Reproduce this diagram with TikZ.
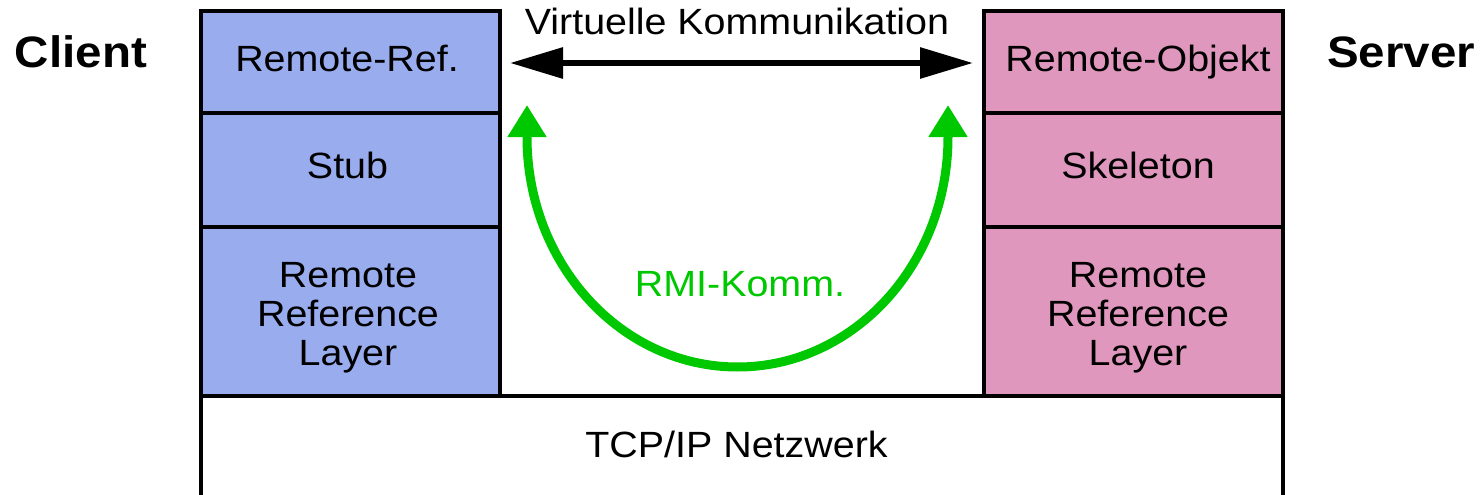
\documentclass[tikz,border=0pt]{standalone}
\usepackage{fontspec}
\setmainfont{Liberation Sans}[FakeStretch=1.08]
\usetikzlibrary{arrows.meta}
\definecolor{clientblue}{RGB}{152,172,238}
\definecolor{serverpink}{RGB}{224,151,190}
\definecolor{rmigreen}{RGB}{0,200,0}
\tikzset{
  bigtip/.tip={Triangle[length=53pt,width=30pt]},
  greentip/.tip={Triangle[length=32pt,width=37pt]}}
\begin{document}
\begin{tikzpicture}[x=1pt,y=-1pt,
  cell/.style={draw=black, line width=4pt, inner sep=0pt, outer sep=0pt, minimum width=299pt},
  lbl/.style={anchor=base, inner sep=0pt, font=\fontsize{36.5}{39}\selectfont},
  side/.style={anchor=base, inner sep=0pt, font=\fontsize{44}{48}\selectfont\bfseries}]
\useasboundingbox (0,0) rectangle (1481,495);
\clip (0,0) rectangle (1481,495);

% network layer (open at the bottom edge)
\node[cell, fill=white, minimum width=1082pt, minimum height=144pt] (net) at (742,468) {};

% client stack
\node[cell, fill=clientblue, minimum height=102pt] (cref)  at (350.5,62) {};
\node[cell, fill=clientblue, minimum height=114pt] (cstub) at (350.5,170) {};
\node[cell, fill=clientblue, minimum height=169pt] (crrl)  at (350.5,311.5) {};

% server stack
\node[cell, fill=serverpink, minimum height=102pt] (sobj)  at (1133.5,62) {};
\node[cell, fill=serverpink, minimum height=114pt] (sskel) at (1133.5,170) {};
\node[cell, fill=serverpink, minimum height=169pt] (srrl)  at (1133.5,311.5) {};

% labels
\node[side] (client) at (81,67) {Client};
\node[side] (server) at (1401,67) {Server};
\node[lbl] (crefT)  at (347,72) {Remote-Ref.};
\node[lbl] (cstubT) at (347.5,178) {Stub};
\node[lbl] (crrlT)  at (348,365) {\begin{tabular}[b]{@{}c@{}}Remote\\Reference\\Layer\end{tabular}};
\node[lbl] (sobjT)  at (1138,72) {Remote-Objekt};
\node[lbl] (sskelT) at (1138,178) {Skeleton};
\node[lbl] (srrlT)  at (1138,365) {\begin{tabular}[b]{@{}c@{}}Remote\\Reference\\Layer\end{tabular}};
\node[lbl] (virt)   at (737,35) {Virtuelle Kommunikation};
\node[lbl, text=rmigreen] (rmi) at (740,296) {RMI-Komm.};
\node[lbl] (netT)   at (736.5,457) {TCP/IP Netzwerk};

% virtual communication
\coordinate (vl) at (510,63);
\coordinate (vr) at (973,63);
\draw[line width=6pt, {bigtip}-{bigtip}] (vl) -- (vr);

% RMI communication arc
\coordinate (gl) at (527,105);
\coordinate (gr) at (948,105);
\draw[rmigreen, line width=9pt, {greentip}-{greentip}]
  (gl) -- (527,137) .. controls (527,264) and (621.2,367) .. (737.5,367)
  .. controls (853.8,367) and (948,264) .. (948,137) -- (gr);
\end{tikzpicture}
\end{document}
